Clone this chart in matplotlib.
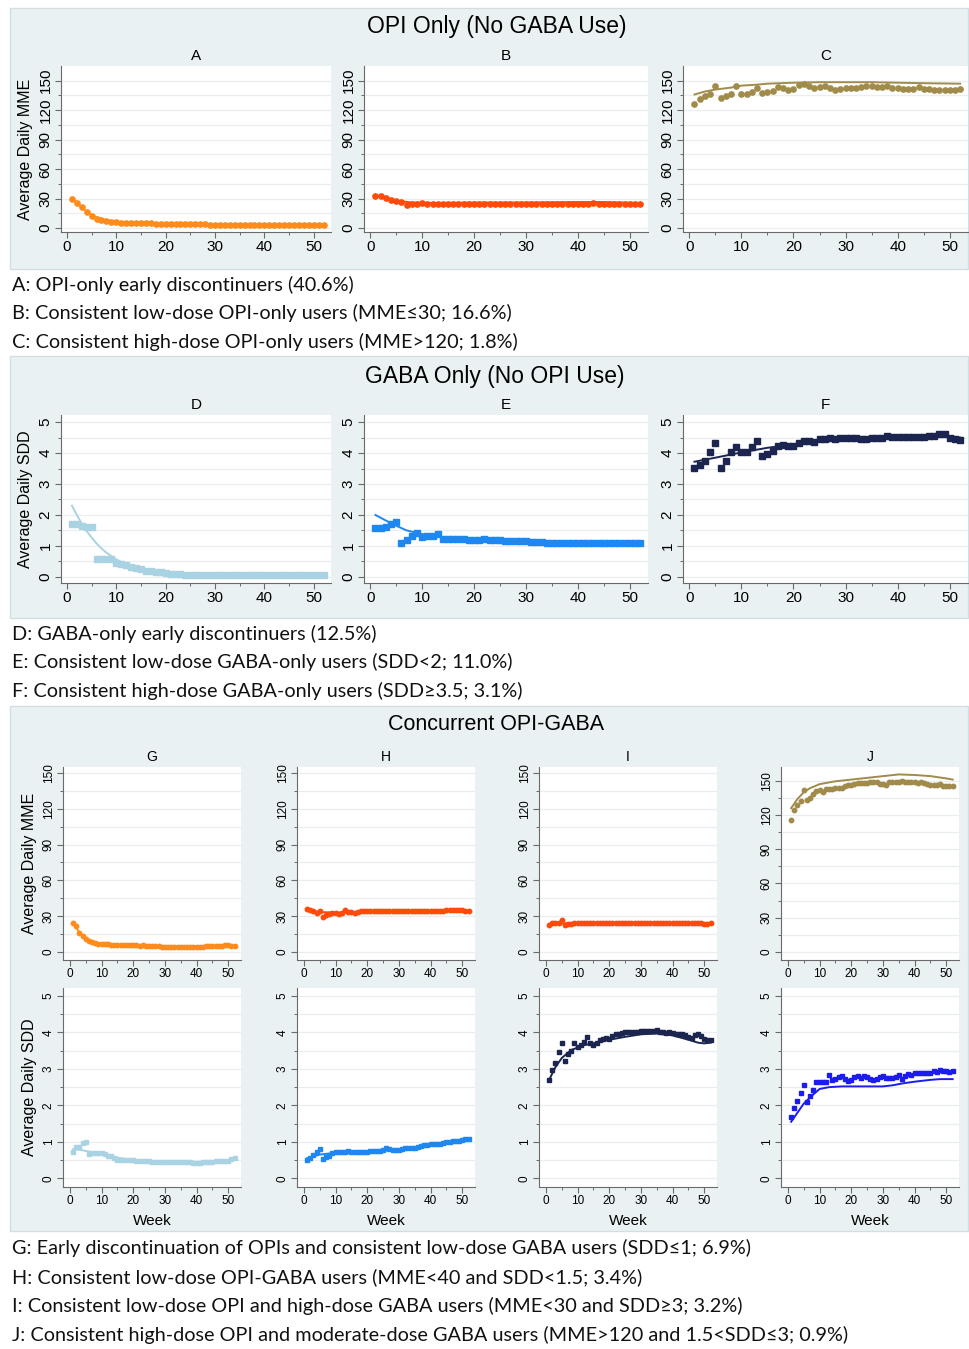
import matplotlib.pyplot as plt
from matplotlib.patches import Rectangle

W, H = 969, 1349

weeks = list(range(1, 53))

# ---- OPI only (MME) ----
a_pts = [30, 26, 21, 16, 12, 9, 8, 7, 6.5, 6, 5.5, 5.5, 5.5, 5, 5, 5, 5, 4, 4, 4,
         4, 4, 4, 4, 4, 4, 4, 4, 3, 3, 3, 3, 3, 3, 3, 3, 3, 3, 3, 3,
         3, 3, 3, 3, 3.5, 3.5, 3.5, 3.5, 3.5, 3.5, 3.5, 3.5]
a_fit_x = [1, 3, 5, 7, 10, 15, 20, 30, 40, 52]
a_fit_y = [31, 21, 13, 9, 6.5, 5, 4, 3, 3, 3.5]

b_pts = [33, 33, 31, 29, 28, 27, 23, 24, 25, 26, 25, 24, 24, 25, 25, 25, 25, 25, 25, 25,
         25, 25, 25, 25, 25, 25, 25, 25, 25, 25, 24, 25, 25, 25, 25, 25, 25, 25, 25, 25,
         25, 25, 26, 25, 24, 25, 25, 25, 25, 25, 24, 24]
b_fit_x = [1, 3, 5, 8, 12, 20, 30, 40, 45, 52]
b_fit_y = [34, 30, 28, 26, 25.5, 26, 26, 26.5, 26.5, 25.5]

c_pts = [126, 131, 134, 136, 145, 132, 134, 136, 145, 137, 137, 139, 143, 138, 139, 140,
         144, 143, 141, 142, 146, 147, 145, 143, 144, 145, 143, 141, 142, 143, 143, 143,
         144, 145, 145, 144, 144, 145, 143, 143, 142, 142, 142, 144, 142, 142, 141, 141,
         141, 141, 141, 142]
c_fit_x = [1, 3, 5, 8, 10, 13, 15, 20, 25, 30, 35, 40, 45, 52]
c_fit_y = [136, 139, 141, 143, 145, 146, 147, 148, 148.5, 148.5, 148.5, 148, 147.5, 147]

# ---- GABA only (SDD) ----
d_pts = [1.7, 1.7, 1.65, 1.62, 1.62, 0.58, 0.58, 0.58, 0.57, 0.45, 0.42, 0.38, 0.33,
         0.28, 0.24, 0.2, 0.18, 0.16, 0.14, 0.12, 0.1, 0.09, 0.08, 0.07, 0.06, 0.05,
         0.05, 0.05, 0.05, 0.05, 0.05, 0.05, 0.05, 0.05, 0.05, 0.05, 0.05, 0.05, 0.05,
         0.05, 0.05, 0.05, 0.05, 0.05, 0.05, 0.05, 0.05, 0.05, 0.05, 0.05, 0.06, 0.07]
d_fit_x = [1, 2, 3, 4, 5, 6, 7, 8, 10, 12, 14, 16, 18, 20, 25, 30, 52]
d_fit_y = [2.3, 2.0, 1.72, 1.48, 1.27, 1.08, 0.92, 0.78, 0.56, 0.4, 0.29, 0.21, 0.15,
           0.11, 0.06, 0.05, 0.05]

e_pts = [1.57, 1.57, 1.62, 1.72, 1.77, 1.1, 1.2, 1.32, 1.4, 1.3, 1.32, 1.33, 1.38, 1.22,
         1.22, 1.23, 1.22, 1.22, 1.2, 1.2, 1.2, 1.22, 1.2, 1.18, 1.2, 1.17, 1.17, 1.17,
         1.15, 1.15, 1.12, 1.12, 1.12, 1.1, 1.1, 1.1, 1.1, 1.1, 1.1, 1.1, 1.1, 1.1, 1.08,
         1.08, 1.1, 1.1, 1.1, 1.08, 1.1, 1.1, 1.1, 1.1]
e_fit_x = [1, 3, 5, 7, 10, 13, 16, 20, 25, 30, 35, 40, 45, 52]
e_fit_y = [2.0, 1.82, 1.65, 1.5, 1.38, 1.3, 1.26, 1.23, 1.2, 1.17, 1.13, 1.11, 1.1, 1.1]

f_pts = [3.52, 3.62, 3.75, 4.02, 4.31, 3.52, 3.73, 4.02, 4.2, 4.02, 4.05, 4.2, 4.39, 3.91,
         3.97, 4.07, 4.23, 4.26, 4.23, 4.23, 4.34, 4.39, 4.39, 4.36, 4.44, 4.47, 4.5, 4.47,
         4.5, 4.5, 4.5, 4.5, 4.45, 4.47, 4.5, 4.5, 4.5, 4.55, 4.52, 4.52, 4.52, 4.52, 4.52,
         4.52, 4.52, 4.55, 4.55, 4.6, 4.6, 4.5, 4.45, 4.42]
f_fit_x = [1, 5, 10, 15, 20, 25, 30, 35, 40, 45, 50, 52]
f_fit_y = [3.72, 3.85, 4.02, 4.17, 4.28, 4.38, 4.45, 4.5, 4.53, 4.55, 4.55, 4.5]

# ---- Concurrent OPI-GABA, MME ----
g_mme = [24, 21.5, 16, 13, 11, 9, 8, 7.5, 7, 6.7, 6.5, 6.3, 6.2, 6, 6, 6, 5.9, 5.8, 5.7,
         5.6, 5.5, 5.4, 5.5, 5.2, 5, 5, 4.8, 4.7, 4.6, 4.5, 4.5, 4.5, 4.5, 4.4, 4.4, 4.4,
         4.4, 4.4, 4.4, 4.5, 4.5, 4.6, 4.7, 4.8, 5, 5, 5.2, 5.3, 5.5, 5.5, 5.2, 4.7]
g_mme_fx = [1, 3, 5, 7, 10, 15, 20, 30, 40, 45, 50, 52]
g_mme_fy = [24, 16.5, 11, 8.5, 7, 6, 5.5, 4.6, 4.5, 4.9, 5.3, 5]

h_mme = [36, 35, 34, 33, 34.5, 29.5, 31, 32, 32.5, 32.5, 32, 32.5, 35, 33.5, 33.5, 33,
         33.5, 34, 34, 34, 34, 34, 34, 34, 34, 34, 34, 34, 34, 34, 34, 34, 34, 34, 34, 34,
         34, 34, 34, 34, 34.5, 34.5, 34.5, 34.5, 35, 35.5, 35.5, 35.5, 35.5, 35, 34.5, 34.5]
h_mme_fx = [1, 5, 10, 20, 30, 40, 50, 52]
h_mme_fy = [35, 33.5, 33, 33.8, 34, 34.3, 35, 35]

i_mme = [23, 24, 24, 24.5, 27, 23, 23.5, 23.5, 24, 24, 24, 24, 24, 24, 24, 24, 24.5, 24.5,
         24, 24, 24, 24, 24, 24, 24, 24, 24, 24, 24, 24, 24, 24, 24, 24, 24, 24, 24.5, 24.5,
         24.5, 24.5, 24.5, 24, 24, 24, 24, 24, 24, 24, 24, 23.5, 23.5, 24]
i_mme_fx = [1, 5, 10, 20, 30, 40, 52]
i_mme_fy = [23.5, 24, 24, 24, 24, 24.2, 24]

j_mme = [116, 124.5, 129, 132, 142, 133, 135, 138, 141, 142, 140.5, 143, 143, 143, 143.5,
         143.5, 144, 145, 146.5, 146, 147, 148, 148, 148, 148, 148.5, 148.5, 148.5, 147,
         147, 146.5, 149, 148.5, 148.5, 148.5, 150, 149, 149, 149, 149, 148, 148.5, 148,
         147, 146.5, 146.5, 146.5, 147, 145.5, 145, 145.5, 145]
j_mme_fx = [1, 3, 5, 7, 10, 15, 20, 25, 30, 35, 40, 45, 50, 52]
j_mme_fy = [126, 134, 140, 143.5, 147, 149.5, 151, 152.5, 154, 155.5, 155, 154, 152, 151]

# ---- Concurrent OPI-GABA, SDD ----
g_sdd = [0.73, 0.87, 0.87, 0.96, 1.0, 0.66, 0.69, 0.69, 0.69, 0.69, 0.66, 0.62, 0.6, 0.55,
         0.5, 0.5, 0.5, 0.5, 0.5, 0.5, 0.47, 0.47, 0.47, 0.47, 0.47, 0.44, 0.44, 0.44, 0.44,
         0.44, 0.44, 0.44, 0.44, 0.44, 0.44, 0.44, 0.44, 0.44, 0.41, 0.41, 0.41, 0.44, 0.44,
         0.44, 0.44, 0.48, 0.48, 0.48, 0.48, 0.48, 0.52, 0.55]
g_sdd_fx = [1, 3, 5, 8, 12, 16, 20, 25, 30, 35, 40, 45, 50, 52]
g_sdd_fy = [0.8, 0.78, 0.75, 0.7, 0.63, 0.55, 0.5, 0.46, 0.44, 0.43, 0.43, 0.45, 0.5, 0.52]

h_sdd = [0.5, 0.55, 0.64, 0.73, 0.8, 0.53, 0.57, 0.62, 0.69, 0.71, 0.73, 0.73, 0.73, 0.74,
         0.71, 0.71, 0.71, 0.72, 0.71, 0.71, 0.74, 0.75, 0.76, 0.76, 0.78, 0.82, 0.8, 0.78,
         0.78, 0.78, 0.8, 0.82, 0.82, 0.83, 0.84, 0.86, 0.88, 0.9, 0.92, 0.93, 0.94, 0.94,
         0.95, 0.97, 0.99, 1.0, 1.01, 1.02, 1.03, 1.05, 1.07, 1.08]
h_sdd_fx = [1, 5, 10, 20, 30, 40, 50, 52]
h_sdd_fy = [0.55, 0.65, 0.7, 0.72, 0.79, 0.91, 1.03, 1.06]

i_sdd = [2.69, 2.97, 3.17, 3.47, 3.7, 3.22, 3.4, 3.5, 3.7, 3.6, 3.65, 3.75, 3.88, 3.7,
         3.65, 3.72, 3.78, 3.82, 3.85, 3.82, 3.9, 3.95, 3.97, 3.98, 4.0, 4.02, 4.0, 4.0,
         4.02, 4.03, 4.04, 4.05, 4.05, 4.03, 4.08, 4.02, 4.0, 3.98, 4.0, 3.98, 3.97, 3.96,
         3.95, 3.93, 3.88, 3.85, 3.92, 3.97, 3.9, 3.82, 3.8, 3.8]
i_sdd_fx = [1, 3, 5, 8, 12, 16, 20, 25, 30, 35, 40, 45, 48, 50, 52]
i_sdd_fy = [2.7, 3.05, 3.3, 3.52, 3.65, 3.72, 3.8, 3.88, 3.95, 3.97, 3.92, 3.8, 3.72, 3.7, 3.72]

j_sdd = [1.68, 1.94, 2.12, 2.35, 2.57, 2.09, 2.27, 2.42, 2.65, 2.63, 2.63, 2.65, 2.84, 2.7,
         2.72, 2.78, 2.8, 2.72, 2.68, 2.7, 2.78, 2.8, 2.75, 2.8, 2.78, 2.72, 2.7, 2.72, 2.78,
         2.8, 2.76, 2.75, 2.76, 2.78, 2.82, 2.72, 2.8, 2.85, 2.82, 2.88, 2.9, 2.88, 2.9, 2.9,
         2.9, 2.95, 2.92, 2.97, 2.95, 2.93, 2.92, 2.95]
j_sdd_fx = [1, 3, 5, 8, 10, 13, 17, 30, 33, 36, 40, 45, 48, 52]
j_sdd_fy = [1.55, 1.8, 2.05, 2.3, 2.45, 2.5, 2.52, 2.52, 2.55, 2.6, 2.65, 2.7, 2.72, 2.72]

panel_titles = ["OPI Only (No GABA Use)", "GABA Only (No OPI Use)", "Concurrent OPI-GABA"]
captions = [
    "A: OPI-only early discontinuers (40.6%)",
    "B: Consistent low-dose OPI-only users (MME\u226430; 16.6%)",
    "C: Consistent high-dose OPI-only users (MME>120; 1.8%)",
    "D: GABA-only early discontinuers (12.5%)",
    "E: Consistent low-dose GABA-only users (SDD<2; 11.0%)",
    "F: Consistent high-dose GABA-only users (SDD\u22653.5; 3.1%)",
    "G: Early discontinuation of OPIs and consistent low-dose GABA users (SDD\u22641; 6.9%)",
    "H: Consistent low-dose OPI-GABA users (MME<40 and SDD<1.5; 3.4%)",
    "I: Consistent low-dose OPI and high-dose GABA users (MME<30 and SDD\u22653; 3.2%)",
    "J: Consistent high-dose OPI and moderate-dose GABA users (MME>120 and 1.5<SDD\u22643; 0.9%)",
]

ORANGE = "#FF8C1A"
ORED = "#FF4A0A"
KHAKI = "#A08B4A"
LBLUE = "#A9D2E2"
DBLUE = "#1E88F0"
NAVY = "#1C2550"
BLUE = "#1C1CEE"
BG = "#EAF1F3"
GRID = "#E9EFF1"

plt.rcParams['font.family'] = ['Liberation Sans', 'DejaVu Sans']

fig = plt.figure(figsize=(W / 100, H / 100), dpi=100)


def rect(l, t, r, b):
    return [l / W, 1 - b / H, (r - l) / W, (b - t) / H]


def panel_bg(t, b):
    fig.add_artist(Rectangle((10 / W, 1 - b / H), (968 - 10) / W, (b - t) / H,
                             transform=fig.transFigure, facecolor=BG,
                             edgecolor="#D2DEE2", lw=1, zorder=0))


def make_ax(box, title, pts, fx, fy, color, marker, ms, kind, xlim, ylim, fs, tfs, ylabel=None, xlabel=None):
    ax = fig.add_axes(rect(*box))
    ax.set_facecolor("white")
    ax.plot(weeks, pts, linestyle="none", marker=marker, ms=ms, color=color, mec=color, zorder=3)
    ax.plot(fx, fy, color=color, lw=1.4, zorder=4)
    ax.set_xlim(*xlim)
    ax.set_ylim(*ylim)
    ax.set_xticks([0, 10, 20, 30, 40, 50])
    ax.set_xticks([5, 15, 25, 35, 45], minor=True)
    if kind == "mme":
        ax.set_yticks([0, 30, 60, 90, 120, 150])
        ax.set_yticks([15, 45, 75, 105, 135], minor=True)
    else:
        ax.set_yticks([0, 1, 2, 3, 4, 5])
        ax.set_yticks([0.5, 1.5, 2.5, 3.5, 4.5], minor=True)
    ax.grid(which="both", axis="y", color=GRID, lw=0.9, zorder=0)
    ax.set_axisbelow(True)
    for s in ["top", "right"]:
        ax.spines[s].set_visible(False)
    for s in ["left", "bottom"]:
        ax.spines[s].set_color("#6A6A6A")
        ax.spines[s].set_linewidth(0.8)
    ax.tick_params(which="major", length=4, width=0.8, color="#6A6A6A", labelsize=fs, pad=2)
    ax.tick_params(which="minor", length=2.5, width=0.7, color="#6A6A6A")
    ax.tick_params(axis="y", labelrotation=90)
    for lbl in ax.get_yticklabels():
        lbl.set_va("center")
    ax.set_title(title, fontsize=tfs, pad=4)
    if ylabel:
        ax.set_ylabel(ylabel, fontsize=11.5, labelpad=4)
    if xlabel:
        ax.set_xlabel(xlabel, fontsize=11, labelpad=5)
    return ax


# panel backgrounds
panel_bg(8, 269)
panel_bg(356, 618)
panel_bg(706, 1231)

fig.text(497 / W, 1 - 27 / H, panel_titles[0], fontsize=16.5, ha="center", va="center")
fig.text(495 / W, 1 - 377 / H, panel_titles[1], fontsize=16.5, ha="center", va="center")
fig.text(496 / W, 1 - 724 / H, panel_titles[2], fontsize=15.5, ha="center", va="center")

xl1 = (-1.2, 53.5)
mme1 = (-4, 165)
sdd1 = (-0.2, 5.23)

make_ax((61, 66, 331, 232), "A", a_pts, a_fit_x, a_fit_y, ORANGE, "o", 3.8, "mme", xl1, mme1, 11, 11,
        ylabel="Average Daily MME")
make_ax((364, 66, 648, 232), "B", b_pts, b_fit_x, b_fit_y, ORED, "o", 3.8, "mme", xl1, mme1, 11, 11)
make_ax((683, 66, 968, 232), "C", c_pts, c_fit_x, c_fit_y, KHAKI, "o", 3.8, "mme", xl1, mme1, 11, 11)

make_ax((61, 415, 331, 583), "D", d_pts, d_fit_x, d_fit_y, LBLUE, "s", 3.8, "sdd", xl1, sdd1, 11, 11,
        ylabel="Average Daily SDD")
make_ax((364, 415, 648, 583), "E", e_pts, e_fit_x, e_fit_y, DBLUE, "s", 3.8, "sdd", xl1, sdd1, 11, 11)
make_ax((683, 415, 968, 583), "F", f_pts, f_fit_x, f_fit_y, NAVY, "s", 3.8, "sdd", xl1, sdd1, 11, 11)

xl3 = (-2.2, 54)
mme3 = (-6.7, 155)
lefts = [63, 297, 539, 781]
wd = 178
make_ax((lefts[0], 767, lefts[0] + wd, 960), "G", g_mme, g_mme_fx, g_mme_fy, ORANGE, "o", 3.2, "mme",
        xl3, mme3, 8.5, 10, ylabel="Average Daily MME")
make_ax((lefts[1], 767, lefts[1] + wd, 960), "H", h_mme, h_mme_fx, h_mme_fy, ORED, "o", 3.2, "mme",
        xl3, mme3, 8.5, 10)
make_ax((lefts[2], 767, lefts[2] + wd, 960), "I", i_mme, i_mme_fx, i_mme_fy, ORED, "o", 3.2, "mme",
        xl3, mme3, 8.5, 10)
make_ax((lefts[3], 767, lefts[3] + wd, 960), "J", j_mme, j_mme_fx, j_mme_fy, KHAKI, "o", 3.2, "mme",
        xl3, (-7, 162), 8.5, 10)

sdd3 = (-0.24, 5.22)
make_ax((lefts[0], 988, lefts[0] + wd, 1187), "", g_sdd, g_sdd_fx, g_sdd_fy, LBLUE, "s", 3.2, "sdd",
        xl3, sdd3, 8.5, 10, ylabel="Average Daily SDD", xlabel="Week")
make_ax((lefts[1], 988, lefts[1] + wd, 1187), "", h_sdd, h_sdd_fx, h_sdd_fy, DBLUE, "s", 3.2, "sdd",
        xl3, sdd3, 8.5, 10, xlabel="Week")
make_ax((lefts[2], 988, lefts[2] + wd, 1187), "", i_sdd, i_sdd_fx, i_sdd_fy, NAVY, "s", 3.2, "sdd",
        xl3, sdd3, 8.5, 10, xlabel="Week")
make_ax((lefts[3], 988, lefts[3] + wd, 1187), "", j_sdd, j_sdd_fx, j_sdd_fy, BLUE, "s", 3.2, "sdd",
        xl3, sdd3, 8.5, 10, xlabel="Week")

cap_y = [285, 313, 342, 634, 662, 691, 1248, 1277, 1306, 1335]
for txt, y in zip(captions, cap_y):
    fig.text(12 / W, 1 - y / H, txt, fontsize=14.3, ha="left", va="center",
             family=["Lato", "DejaVu Sans"], color="#111111")

fig.savefig("out.png", dpi=100, facecolor="white")
